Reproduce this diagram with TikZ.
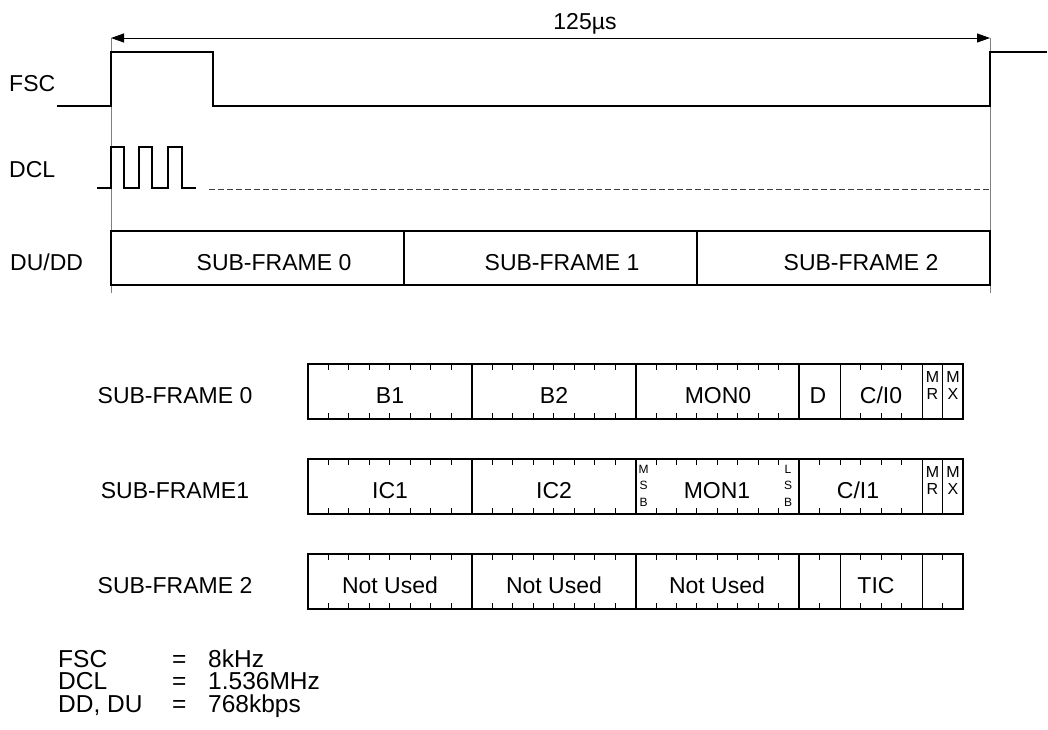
\documentclass[tikz,border=0pt]{standalone}
\usepackage{fontspec}
\setmainfont{Liberation Sans}
\usetikzlibrary{arrows.meta}
\begin{document}
\begin{tikzpicture}[x=1pt,y=-1pt,
  lab/.style={inner sep=0pt, anchor=base, font=\fontsize{23}{27}\selectfont},
  labw/.style={lab, anchor=base west},
  note/.style={inner sep=0pt, anchor=base west, font=\fontsize{24.5}{26}\selectfont},
  bitlab/.style={inner sep=0pt, anchor=base, font=\fontsize{16}{17}\selectfont},
  sblab/.style={inner sep=0pt, anchor=base, font=\fontsize{12}{13}\selectfont},
  wave/.style={line width=2pt, line join=miter},
  boxline/.style={line width=2pt},
  thinline/.style={line width=1pt},
  tickline/.style={line width=0.9pt},
  guide/.style={line width=1pt, draw=black!50},
  dimline/.style={line width=1pt, {Triangle[length=13pt,width=9pt]}-{Triangle[length=13pt,width=9pt]}},
  dcldash/.style={line width=1pt, draw=black!75, dash pattern=on 6pt off 3pt}
]
\useasboundingbox (0,0) rectangle (1048,729);

% ---------------- timing part ----------------
\coordinate (ta) at (111,38);
\coordinate (tb) at (990,38);
\draw[guide] (111,38) -- (111,293);
\draw[guide] (990,38) -- (990,293);
\draw[dimline] (ta) -- (tb);
\node[lab] (period) at (585,29) {125µs};

% labels
\node[labw] (lfsc) at (9,91) {FSC};
\node[labw] (ldcl) at (9,177) {DCL};
\node[labw] (ldu) at (10,270) {DU/DD};

% FSC waveform
\draw[wave] (57,106) -- (111,106) -- (111,52) -- (213,52) -- (213,106) -- (990,106) -- (990,52) -- (1047,52);

% DCL waveform
\draw[wave] (97,188) -- (111,188) -- (111,147) -- (124,147) -- (124,188) -- (139,188) -- (139,147)
  -- (152,147) -- (152,188) -- (168,188) -- (168,147) -- (182,147) -- (182,188) -- (196,188);
\draw[dcldash] (209,189) -- (990,189);

% DU/DD frame
\draw[boxline] (111,231) rectangle (990,285);
\draw[boxline] (404,231) -- (404,285);
\draw[boxline] (697,231) -- (697,285);
\node[lab] (sf0) at (274,270) {SUB-FRAME 0};
\node[lab] (sf1) at (562,270) {SUB-FRAME 1};
\node[lab] (sf2) at (861,270) {SUB-FRAME 2};

% ---------------- sub-frame rows ----------------
\def\bw{20.469}
\def\xs{308}
% row tops: 364, 459, 554 ; height 55
\foreach \T/\ticks/\thin in {364/{1,2,3,4,5,6,7,9,10,11,12,13,14,15,17,18,19,20,21,22,23,27,28,29}/{26,30,31},
                             459/{1,2,3,4,5,6,7,9,10,11,12,13,14,15,17,18,19,20,21,22,23,25,26,27,28,29}/{30,31},
                             554/{1,2,3,4,5,6,7,9,10,11,12,13,14,15,17,18,19,20,21,22,23,25,27,28,29,31}/{26,30}}{
  \pgfmathsetmacro{\B}{\T+55}
  \foreach \k in \ticks {
    \pgfmathsetmacro{\xx}{\xs+\k*\bw}
    \draw[tickline] (\xx,\T) -- ++(0,6);
    \draw[tickline] (\xx,\B) -- ++(0,-6);
  }
  \foreach \k in \thin {
    \pgfmathsetmacro{\xx}{\xs+\k*\bw}
    \draw[thinline] (\xx,\T) -- (\xx,\B);
  }
  \foreach \k in {8,16,24} {
    \pgfmathsetmacro{\xx}{\xs+\k*\bw}
    \draw[boxline] (\xx,\T) -- (\xx,\B);
  }
  \draw[boxline] (308,\T) rectangle (963,\B);
}

% row labels
\node[lab] (r0) at (175,403) {SUB-FRAME 0};
\node[lab] (r1) at (175,498) {SUB-FRAME1};
\node[lab] (r2) at (175,593) {SUB-FRAME 2};

% row 0 fields
\node[lab] (b1) at (390,403) {B1};
\node[lab] (b2) at (554,403) {B2};
\node[lab] (mon0) at (718,403) {MON0};
\node[lab] (dch) at (818,403) {D};
\node[lab] (ci0) at (881,403) {C/I0};
\node[bitlab] (mr0a) at (932.5,382) {M};
\node[bitlab] (mr0b) at (932.5,399) {R};
\node[bitlab] (mx0a) at (953,382) {M};
\node[bitlab] (mx0b) at (953,399) {X};

% row 1 fields
\node[lab] (ic1) at (390,498) {IC1};
\node[lab] (ic2) at (554,498) {IC2};
\node[lab] (mon1) at (717,498) {MON1};
\node[lab] (ci1) at (858,498) {C/I1};
\node[bitlab] (mr1a) at (932.5,477) {M};
\node[bitlab] (mr1b) at (932.5,494) {R};
\node[bitlab] (mx1a) at (953,477) {M};
\node[bitlab] (mx1b) at (953,494) {X};
\node[sblab] (msb1) at (643.5,473) {M};
\node[sblab] (msb2) at (643.5,489) {S};
\node[sblab] (msb3) at (643.5,506) {B};
\node[sblab] (lsb1) at (788,473) {L};
\node[sblab] (lsb2) at (788,489) {S};
\node[sblab] (lsb3) at (788,506) {B};

% row 2 fields
\node[lab] (nu1) at (390,593) {Not Used};
\node[lab] (nu2) at (554,593) {Not Used};
\node[lab] (nu3) at (717,593) {Not Used};
\node[lab] (tic) at (876,593) {TIC};

% ---------------- notes ----------------
\node[note] (n1a) at (58,667) {FSC};
\node[note] (n1b) at (172,667) {=};
\node[note] (n1c) at (208,667) {8kHz};
\node[note] (n2a) at (58,689.5) {DCL};
\node[note] (n2b) at (172,689.5) {=};
\node[note] (n2c) at (208,689.5) {1.536MHz};
\node[note] (n3a) at (58,712) {DD, DU};
\node[note] (n3b) at (172,712) {=};
\node[note] (n3c) at (208,712) {768kbps};
\end{tikzpicture}
\end{document}
